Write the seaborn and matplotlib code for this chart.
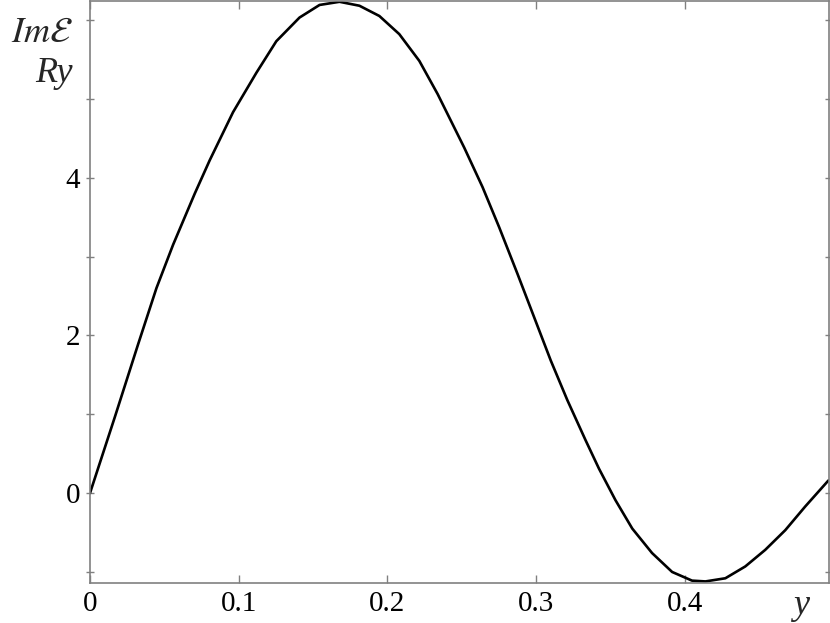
import matplotlib
matplotlib.use("Agg")
import matplotlib.pyplot as plt
import seaborn as sns

# curve
y_coord = [0.0, 0.0168, 0.0324, 0.0447, 0.0559, 0.0705, 0.0805, 0.0962, 0.1119,
           0.1253, 0.1409, 0.1544, 0.1678, 0.1812, 0.1946, 0.208, 0.2215, 0.2338,
           0.2517, 0.264, 0.2752, 0.2875, 0.2987, 0.3099, 0.321, 0.3333, 0.3423,
           0.3534, 0.3647, 0.378, 0.3915, 0.4049, 0.4139, 0.4273, 0.4407, 0.4541,
           0.4676, 0.481, 0.4966]
im_energy = [0.0, 0.97, 1.89, 2.60, 3.15, 3.80, 4.22, 4.83, 5.33,
             5.73, 6.03, 6.19, 6.23, 6.18, 6.05, 5.82, 5.48, 5.06,
             4.38, 3.88, 3.37, 2.78, 2.23, 1.68, 1.18, 0.67, 0.31,
             -0.09, -0.45, -0.76, -1.00, -1.11, -1.12, -1.08, -0.93, -0.72,
             -0.47, -0.17, 0.16]

x_ticks = [0, 0.1, 0.2, 0.3, 0.4]
x_tick_labels = ["0", "0.1", "0.2", "0.3", "0.4"]
y_ticks = [-1, 0, 1, 2, 3, 4, 5, 6]
y_tick_labels = ["", "0", "", "2", "", "4", "", ""]

sns.set_theme(style="ticks")
plt.rcParams["font.family"] = ["Liberation Serif", "DejaVu Serif"]
plt.rcParams["mathtext.fontset"] = "stix"

fig = plt.figure(figsize=(8.3, 6.23), dpi=100)
ax = fig.add_axes([90 / 830, 1 - 583 / 623, 739 / 830, 582 / 623])

sns.lineplot(x=y_coord, y=im_energy, ax=ax, color="black", linewidth=1.9,
             estimator=None, sort=False)

ax.set_xlim(0, 0.497)
ax.set_ylim(-1.14, 6.24)
ax.set_xticks(x_ticks)
ax.set_xticklabels(x_tick_labels)
ax.set_yticks(y_ticks)
ax.set_yticklabels(y_tick_labels)

gray = "#808080"
for sp in ax.spines.values():
    sp.set_visible(True)
    sp.set_color(gray)
    sp.set_linewidth(1.2)

ax.tick_params(axis="both", colors=gray, labelcolor="black", labelsize=21,
               width=1.0, length=6)
ax.tick_params(axis="x", direction="in", top=True, pad=6)
ax.tick_params(axis="y", direction="inout", right=True, pad=4)
ax.set_xlabel("")
ax.set_ylabel("")

fig.text(73 / 830, 1 - 33 / 623, r"$\mathit{Im}\mathbf{\mathcal{E}}$", fontsize=26,
         ha="right", va="center")
fig.text(73 / 830, 1 - 74 / 623, "Ry", fontsize=26, style="italic",
         ha="right", va="center")
fig.text(801 / 830, 1 - 605 / 623, "y", fontsize=26, style="italic",
         ha="center", va="center")

fig.savefig("out.png", dpi=100, facecolor="white")
